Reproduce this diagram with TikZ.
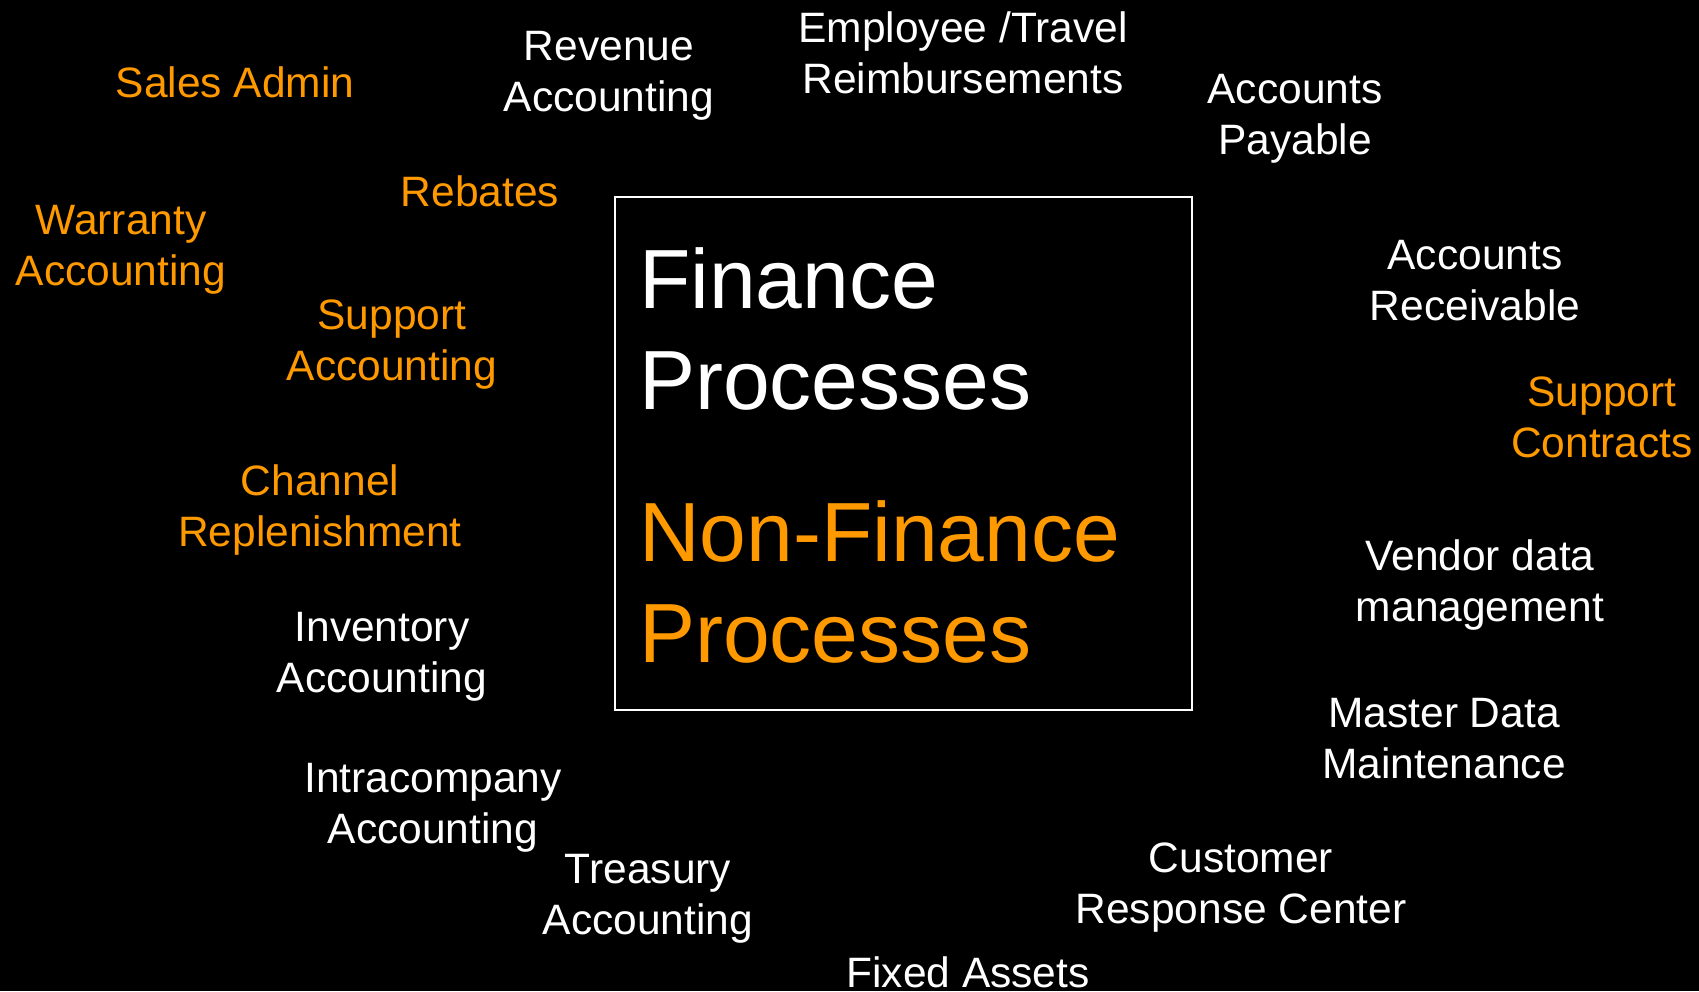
\documentclass[tikz,border=0pt]{standalone}
\usepackage{fontspec}
\setmainfont{Liberation Sans}
\definecolor{accent}{HTML}{FF9900}
\begin{document}
\begin{tikzpicture}[x=1pt,y=1pt,
  lbl/.style={align=center,inner sep=0pt,text=white,
    font=\fontsize{42.5}{51}\selectfont},
  olbl/.style={lbl,text=accent},
  big/.style={align=left,inner sep=0pt,anchor=base west,
    font=\fontsize{84}{101}\selectfont}]
  % page and background
  \useasboundingbox (0,0) rectangle (1699,991);
  \fill[black] (0,0) rectangle (1699,991);

  % central frame
  \node[draw=white,line width=1.5pt,minimum width=577,minimum height=513,
        inner sep=0pt] (frame) at (903.5,537.5) {};
  % base anchor sits on the last line of each block
  \node[big,text=white] (fin) at (639,581) {Finance\\Processes};
  \node[big,text=accent] (nonfin) at (639,328) {Non-Finance\\Processes};

  % surrounding processes
  \node[olbl] (sales)     at (235,909) {Sales Admin};
  \node[lbl]  (revenue)   at (609,915) {Revenue\\Accounting};
  \node[lbl]  (travel)    at (963,938) {Employee /Travel\\Reimbursements};
  \node[lbl]  (ap)        at (1295,872) {Accounts\\Payable};
  \node[olbl] (rebates)   at (480,800) {Rebates};
  \node[olbl] (warranty)  at (121,741) {Warranty\\Accounting};
  \node[olbl] (supacc)    at (392,646) {Support\\Accounting};
  \node[lbl]  (ar)        at (1475,710) {Accounts\\Receivable};
  \node[olbl] (supcon)    at (1602,574) {Support\\Contracts};
  \node[olbl] (channel)   at (320,481) {Channel\\Replenishment};
  \node[lbl]  (vendor)    at (1480,406) {Vendor data\\management};
  \node[lbl]  (inventory) at (382,334) {Inventory\\Accounting};
  \node[lbl]  (master)    at (1444,252) {Master Data\\Maintenance};
  \node[lbl]  (intra)     at (433,183) {Intracompany\\Accounting};
  \node[lbl]  (treasury)  at (648,92) {Treasury\\Accounting};
  \node[lbl]  (crc)       at (1241,103) {Customer\\Response Center};
  \node[lbl]  (fixed)     at (968,19) {Fixed Assets};
\end{tikzpicture}
\end{document}
